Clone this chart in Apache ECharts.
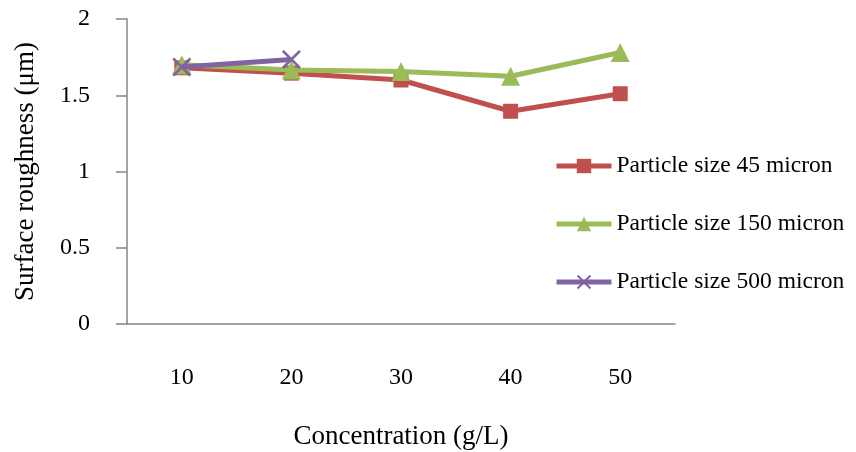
<!DOCTYPE html>
<html>
<head>
<meta charset="utf-8">
<script src="https://cdn.jsdelivr.net/npm/echarts@6/dist/echarts.min.js"></script>
<style>
  html, body { margin: 0; padding: 0; background: #fff; }
  #chart { width: 856px; height: 452px; }
</style>
</head>
<body>
<div id="chart"></div>
<script>
// Concentration levels (g/L)
const concentrations = ['10', '20', '30', '40', '50'];

// Surface roughness (µm) for each particle size
const size45 = [1.68, 1.645, 1.60, 1.395, 1.51];
const size150 = [1.70, 1.665, 1.655, 1.625, 1.78];
const size500 = [1.685, 1.735];

const seriesNames = ['Particle size 45 micron', 'Particle size 150 micron', 'Particle size 500 micron'];

const serif = '"Liberation Serif", "Times New Roman", serif';
// X-shaped marker outline
const crossPath = 'path://M0,1L1,0L5,4L9,0L10,1L6,5L10,9L9,10L5,6L1,10L0,9L4,5Z';

const chart = echarts.init(document.getElementById('chart'));
chart.setOption({
  backgroundColor: '#ffffff',
  animation: false,
  grid: { left: 127, right: 181, top: 19, bottom: 128, outerBoundsMode: 'none' },
  legend: {
    orient: 'vertical',
    left: 549,
    top: 149,
    itemWidth: 55,
    itemHeight: 18,
    itemGap: 34,
    lineStyle: { width: 5 },
    textStyle: { fontFamily: serif, fontSize: 23.5, color: '#000' },
    data: seriesNames
  },
  xAxis: {
    type: 'category',
    data: concentrations,
    boundaryGap: true,
    name: 'Concentration (g/L)',
    nameLocation: 'middle',
    nameGap: 99,
    nameTextStyle: { fontFamily: serif, fontSize: 27, color: '#000' },
    axisLine: { lineStyle: { color: '#868686', width: 1.5 } },
    axisTick: { show: false },
    axisLabel: { fontFamily: serif, fontSize: 24, color: '#000', margin: 42 }
  },
  yAxis: {
    type: 'value',
    min: 0,
    max: 2,
    interval: 0.5,
    name: 'Surface roughness (μm)',
    nameLocation: 'middle',
    nameGap: 88,
    nameTextStyle: { fontFamily: serif, fontSize: 27, color: '#000' },
    axisLine: { show: true, lineStyle: { color: '#868686', width: 1.5 } },
    axisTick: { show: true, length: 11, lineStyle: { color: '#868686', width: 1.5 } },
    splitLine: { show: false },
    axisLabel: { fontFamily: serif, fontSize: 24, color: '#000', margin: 37 }
  },
  series: [
    {
      name: seriesNames[0],
      type: 'line',
      data: size45,
      symbol: 'rect',
      symbolSize: 15,
      z: 2,
      lineStyle: { color: '#c0504d', width: 5 },
      itemStyle: { color: '#c0504d' }
    },
    {
      name: seriesNames[1],
      type: 'line',
      data: size150,
      symbol: 'triangle',
      symbolSize: 19,
      z: 3,
      lineStyle: { color: '#9bbb59', width: 5 },
      itemStyle: { color: '#9bbb59' }
    },
    {
      name: seriesNames[2],
      type: 'line',
      data: size500,
      symbol: crossPath,
      symbolSize: 19,
      z: 4,
      lineStyle: { color: '#8064a2', width: 5 },
      itemStyle: { color: '#8064a2' }
    }
  ]
});
</script>
</body>
</html>
